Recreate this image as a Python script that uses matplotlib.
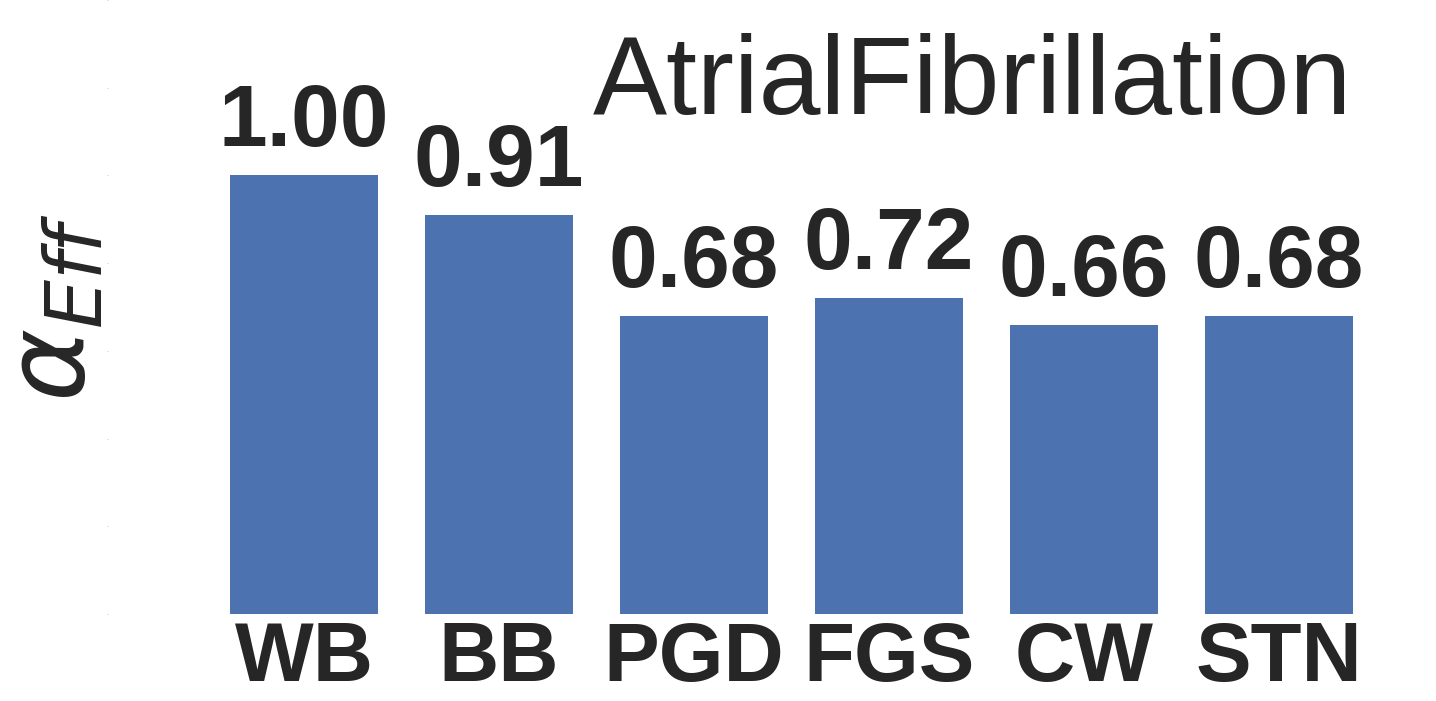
import matplotlib.pyplot as plt
import numpy as np

methods = ['WB', 'BB', 'PGD', 'FGS', 'CW', 'STN']
alpha_eff = [1.00, 0.91, 0.68, 0.72, 0.66, 0.68]
labels = ['1.00', '0.91', '0.68', '0.72', '0.66', '0.68']
dataset = 'AtrialFibrillation'

plt.rcParams['font.family'] = ['Liberation Sans', 'DejaVu Sans']
plt.rcParams['mathtext.fontset'] = 'dejavusans'
txt = '#262626'

fig = plt.figure(figsize=(14.36, 7.01), dpi=100)
ax = fig.add_axes([0.0752, 0.124, 0.9248, 0.876])

x = np.arange(len(methods))
ax.bar(x, alpha_eff, width=0.76, color='#4C72B0')
for xi, v, s in zip(x, alpha_eff, labels):
    ax.annotate(s, (xi, v), xytext=(0, 29), textcoords='offset pixels',
                ha='center', va='baseline', fontsize=63, fontweight='bold', color=txt)

ax.set_xlim(-1.005, 5.805)
ax.set_ylim(0, 1.4)
ax.set_xticks(x)
ax.set_xticklabels(methods, fontsize=60, fontweight='bold', color=txt)
ax.tick_params(axis='x', length=0, pad=4)
ax.set_yticks(np.arange(0, 1.41, 0.2))
ax.tick_params(axis='y', length=1, width=0.5, color='#bbbbbb', labelleft=False)
for sp in ax.spines.values():
    sp.set_visible(False)

ax.set_ylabel(r'$\alpha_{Eff}$', fontsize=80, color=txt, labelpad=0)
fig.text(0.9415, 0.837, dataset, fontsize=80, color=txt, ha='right', va='baseline')

fig.savefig('out.png', dpi=100)
